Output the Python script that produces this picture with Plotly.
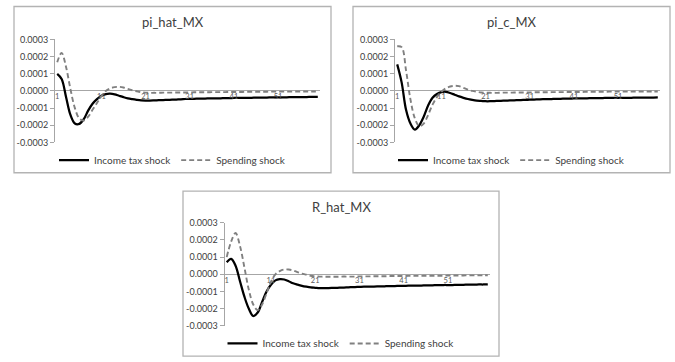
import plotly.graph_objects as go

# ---------------- data (values in units of 1e-6) ----------------
SCALE = 1e-6
periods = list(range(1, 61))
panel_titles = ["pi_hat_MX", "pi_c_MX", "R_hat_MX"]
series_names = ["Income tax shock", "Spending shock"]
x_tick_vals = [1, 11, 21, 31, 41, 51]
x_tick_text = ["1", "11", "21", "31", "41", "51"]
y_tick_vals = [0.0003, 0.0002, 0.0001, 0.0, -0.0001, -0.0002, -0.0003]
y_tick_text = ["0.0003", "0.0002", "0.0001", "0.0000", "-0.0001", "-0.0002", "-0.0003"]

pi_hat_income = [100, 70, -35, -140, -190, -192, -165, -115, -75, -48,
                 -28, -18, -16, -20, -28, -36, -43, -48, -52, -55,
                 -56, -56, -55, -54, -53, -52, -51, -50, -49, -47,
                 -46, -46, -45, -45, -44, -44, -43, -43, -42, -42,
                 -41, -41, -40, -40, -40, -39, -39, -39, -38, -38,
                 -37, -37, -37, -36, -36, -36, -36, -35, -35, -35]
pi_hat_spending = [167, 222, 140, 10, -100, -160, -172, -150, -110, -70,
                   -30, 0, 15, 22, 24, 20, 12, 4, -2, -7,
                   -10, -11, -11, -11, -10, -10, -10, -9, -9, -9,
                   -9, -8, -8, -8, -8, -7, -7, -7, -7, -6,
                   -6, -6, -6, -5, -5, -5, -5, -5, -4, -4,
                   -4, -4, -4, -4, -3, -3, -3, -3, -3, -3]
pi_c_income = [155, 50, -110, -190, -225, -200, -150, -85, -40, -18,
               -7, -5, -12, -22, -32, -40, -47, -52, -56, -58,
               -60, -60, -59, -58, -57, -56, -55, -54, -53, -52,
               -51, -50, -49, -48, -48, -47, -46, -46, -45, -45,
               -44, -44, -43, -43, -42, -42, -42, -41, -41, -41,
               -40, -40, -40, -40, -39, -39, -39, -39, -39, -38]
pi_c_spending = [260, 255, 120, -50, -160, -205, -190, -140, -80, -35,
                 -5, 15, 26, 30, 28, 18, 8, 0, -5, -9,
                 -10, -11, -11, -11, -10, -10, -10, -9, -9, -9,
                 -9, -8, -8, -8, -8, -7, -7, -7, -7, -6,
                 -6, -6, -6, -5, -5, -5, -5, -5, -4, -4,
                 -4, -4, -4, -4, -3, -3, -3, -3, -3, -3]
R_hat_income = [70, 90, 50, -40, -130, -200, -242, -222, -160, -100,
                -60, -35, -28, -30, -40, -52, -60, -67, -72, -76,
                -78, -80, -80, -80, -79, -78, -77, -76, -75, -74,
                -73, -72, -72, -71, -70, -70, -69, -68, -68, -67,
                -67, -66, -66, -65, -65, -64, -64, -63, -63, -62,
                -62, -62, -61, -61, -60, -60, -60, -59, -59, -58]
R_hat_spending = [100, 190, 240, 165, 40, -90, -175, -208, -175, -110,
                  -43, 0, 19, 28, 28, 23, 13, 4, -2, -8,
                  -12, -13, -14, -14, -14, -14, -13, -13, -13, -13,
                  -12, -12, -12, -11, -11, -11, -11, -10, -10, -10,
                  -10, -9, -9, -9, -9, -8, -8, -8, -8, -8,
                  -7, -7, -7, -7, -6, -6, -6, -6, -6, -5]

panels_data = [
    (pi_hat_income, pi_hat_spending),
    (pi_c_income, pi_c_spending),
    (R_hat_income, R_hat_spending),
]

# ---------------- layout geometry (pixels) ----------------
W, H = 675, 362
FONT = "Lato"
AXIS_GRAY = "#a6a6a6"
TEXT = "#404040"

panels_geom = [
    dict(box=(14, 331, 0.5, 172), plot=(55, 320, 34.5, 140.7), title_y=17, legend_y=159),
    dict(box=(353, 670, 0.5, 172), plot=(395, 660, 34.5, 140.7), title_y=17, legend_y=159),
    dict(box=(183, 499, 191, 361), plot=(224.5, 490, 223.5, 330), title_y=207, legend_y=348),
]


def px(x):
    return x / W


def py(y):
    return 1 - y / H


fig = go.Figure()
layout = dict(
    width=W, height=H,
    margin=dict(l=0, r=0, t=0, b=0),
    paper_bgcolor="white", plot_bgcolor="white",
    font=dict(family=FONT, color=TEXT),
    shapes=[], annotations=[],
)

for i, (geom, (inc, spe), title) in enumerate(zip(panels_geom, panels_data, panel_titles)):
    n = "" if i == 0 else str(i + 1)
    xa, ya = "x" + n, "y" + n
    leg = "legend" + n
    x0, x1, ytop, ybot = geom["plot"]
    ydom = [py(ybot), py(ytop)]
    fig.add_trace(go.Scatter(
        x=periods, y=[v * SCALE for v in inc], name=series_names[0],
        mode="lines", line=dict(color="black", width=2.25, shape="spline"),
        xaxis=xa, yaxis=ya, legend=leg, hoverinfo="skip"))
    fig.add_trace(go.Scatter(
        x=periods, y=[v * SCALE for v in spe], name=series_names[1],
        mode="lines", line=dict(color="#808080", width=1.9, dash="5px,3px", shape="spline"),
        xaxis=xa, yaxis=ya, legend=leg, hoverinfo="skip"))

    layout["xaxis" + n] = dict(
        domain=[px(x0), px(x1)], range=[0.5, 60.5],
        anchor="free", position=(ydom[0] + ydom[1]) / 2,
        showline=False, showgrid=False, zeroline=False, ticks="",
        tickvals=x_tick_vals, ticktext=x_tick_text,
        tickfont=dict(size=7.5, color="#595959", family=FONT),
        ticklabelstandoff=0,
    )
    layout["yaxis" + n] = dict(
        domain=ydom, range=[-0.0003, 0.0003], anchor=xa,
        showline=True, linecolor=AXIS_GRAY, linewidth=1,
        ticks="outside", ticklen=4, tickcolor=AXIS_GRAY,
        showgrid=False, zeroline=True, zerolinecolor=AXIS_GRAY, zerolinewidth=1,
        tickvals=y_tick_vals, ticktext=y_tick_text,
        tickfont=dict(size=9, color=TEXT, family=FONT),
    )
    layout[leg] = dict(
        orientation="h", x=px((geom["box"][0] + geom["box"][1]) / 2), xanchor="center",
        y=py(geom["legend_y"]), yanchor="middle",
        font=dict(size=10, color=TEXT, family=FONT),
        bgcolor="rgba(0,0,0,0)", itemwidth=30, tracegroupgap=0,
    )
    bx0, bx1, by0, by1 = geom["box"]
    layout["shapes"].append(dict(
        type="rect", xref="paper", yref="paper",
        x0=px(bx0), x1=px(bx1), y0=py(by1), y1=py(by0),
        line=dict(color="#b3b3b3", width=1.3), fillcolor="rgba(0,0,0,0)", layer="below"))
    layout["annotations"].append(dict(
        text=title, xref="paper", yref="paper",
        x=px((bx0 + bx1) / 2), y=py(geom["title_y"]), xanchor="center", yanchor="middle",
        showarrow=False, font=dict(size=13, color=TEXT, family=FONT)))

fig.update_layout(**layout)
fig.write_html("out.html")
